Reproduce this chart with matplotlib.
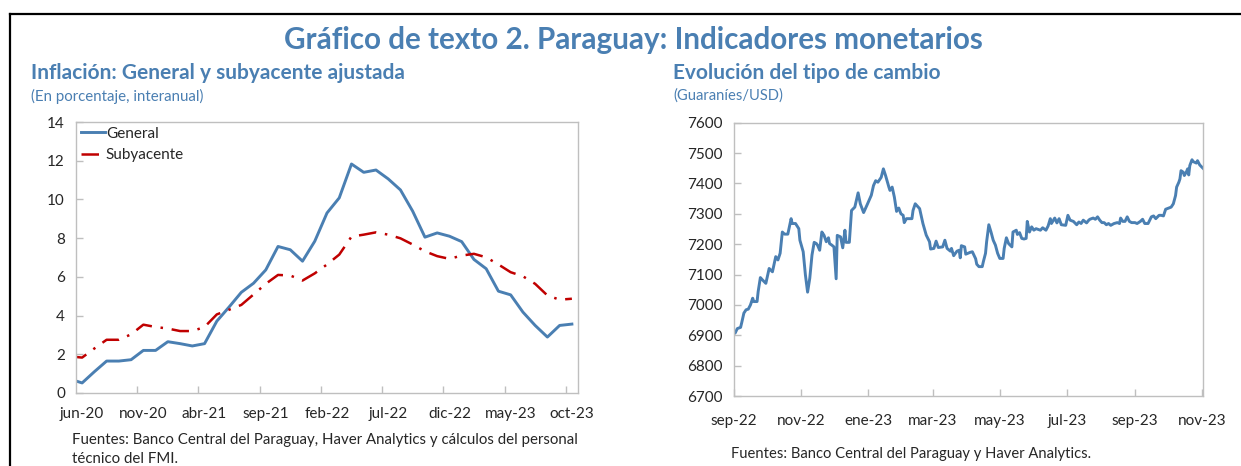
import datetime as dt
import numpy as np
import pandas as pd
import matplotlib
matplotlib.use("Agg")
import matplotlib.pyplot as plt
from matplotlib.lines import Line2D

plt.rcParams['font.family'] = ['Lato', 'DejaVu Sans']

# === Inflacion (mensual, may-20 .. oct-23) ===
meses = pd.period_range("2020-05", "2023-10", freq="M")
general = [0.72, 0.52, 1.10, 1.65, 1.65, 1.72, 2.20, 2.20, 2.65, 2.55, 2.43,
           2.55, 3.71, 4.44, 5.20, 5.67, 6.36, 7.57, 7.40, 6.81, 7.84, 9.30,
           10.08, 11.83, 11.40, 11.52, 11.06, 10.49, 9.39, 8.05, 8.27, 8.10,
           7.82, 6.90, 6.42, 5.26, 5.07, 4.18, 3.49, 2.89, 3.49, 3.56]
subyacente = [1.89, 1.83, 2.30, 2.75, 2.75, 3.03, 3.53, 3.41, 3.33, 3.20, 3.20,
              3.41, 4.06, 4.30, 4.55, 5.09, 5.64, 6.10, 6.07, 5.81, 6.18, 6.64,
              7.15, 8.08, 8.18, 8.30, 8.18, 7.99, 7.67, 7.32, 7.07, 6.93,
              7.10, 7.19, 7.01, 6.64, 6.24, 6.03, 5.64, 5.04, 4.82, 4.87]
inf_labels = ["jun-20", "nov-20", "abr-21", "sep-21", "feb-22", "jul-22",
              "dic-22", "may-23", "oct-23"]

# === Tipo de cambio (dias desde 1-sep-2022) ===
fx_start = dt.date(2022, 9, 1)
fx_days = [0, 1, 3, 6, 7, 9, 11, 13, 15, 17, 18, 21, 22, 24, 26, 29, 32, 35,
           38, 40, 42, 44, 46, 49, 52, 53, 56, 59, 60, 63, 65, 67, 69, 71, 73,
           75, 76, 78, 80, 82, 84, 86, 87, 89, 91, 93, 94, 97, 99, 101, 102,
           105, 107, 110, 113, 115, 118, 121, 125, 127, 129, 131, 134, 136,
           138, 141, 142, 144, 146, 148, 150, 152, 154, 155, 157, 162, 163,
           165, 169, 172, 175, 178, 179, 182, 184, 186, 190, 192, 194, 197,
           198, 200, 203, 205, 206, 207, 210, 211, 215, 217, 220, 221, 223,
           226, 227, 229, 230, 232, 234, 236, 238, 240, 242, 245, 246, 248,
           250, 253, 254, 257, 258, 260, 262, 264, 266, 267, 269, 271, 273,
           275, 279, 281, 284, 286, 288, 289, 292, 294, 296, 298, 302, 304,
           306, 309, 312, 314, 316, 318, 321, 323, 324, 327, 329, 331, 333,
           335, 337, 339, 341, 343, 346, 349, 351, 352, 354, 356, 358, 360,
           362, 365, 367, 370, 372, 374, 377, 380, 382, 384, 387, 389, 391,
           393, 396, 398, 400, 402, 403, 405, 406, 407, 409, 410, 412, 413,
           414, 415, 417, 418, 421, 422, 424, 427]
fx_values = [6911, 6907, 6922, 6926, 6941, 6973, 6984, 6986, 7000, 7022, 7011,
             7011, 7044, 7090, 7082, 7071, 7120, 7109, 7159, 7148, 7170, 7240,
             7233, 7233, 7284, 7268, 7268, 7251, 7213, 7175, 7099, 7042, 7088,
             7164, 7206, 7202, 7197, 7180, 7240, 7229, 7208, 7221, 7202, 7197,
             7191, 7086, 7229, 7224, 7188, 7246, 7206, 7206, 7311, 7322, 7369,
             7333, 7304, 7328, 7361, 7393, 7409, 7404, 7420, 7448, 7426, 7388,
             7377, 7388, 7355, 7308, 7319, 7300, 7295, 7271, 7284, 7284, 7311,
             7333, 7317, 7268, 7230, 7208, 7184, 7186, 7210, 7189, 7191, 7213,
             7186, 7177, 7186, 7162, 7177, 7180, 7155, 7195, 7191, 7167, 7173,
             7175, 7152, 7134, 7126, 7126, 7142, 7170, 7208, 7264, 7240, 7213,
             7197, 7170, 7153, 7153, 7186, 7221, 7202, 7191, 7240, 7246, 7232,
             7238, 7219, 7217, 7219, 7275, 7240, 7257, 7246, 7251, 7246, 7254,
             7246, 7260, 7284, 7268, 7286, 7270, 7284, 7264, 7262, 7295, 7279,
             7275, 7264, 7273, 7268, 7279, 7270, 7279, 7282, 7286, 7282, 7290,
             7279, 7271, 7271, 7264, 7268, 7262, 7268, 7271, 7268, 7286, 7275,
             7275, 7290, 7275, 7271, 7271, 7268, 7275, 7282, 7268, 7268, 7290,
             7293, 7284, 7295, 7295, 7293, 7315, 7319, 7322, 7333, 7360, 7388,
             7404, 7415, 7442, 7437, 7426, 7439, 7448, 7428, 7459, 7478, 7472,
             7467, 7475, 7461, 7450]
fx_tick_dates = ["2022-09-01", "2022-11-01", "2023-01-01", "2023-03-01",
                 "2023-05-01", "2023-07-01", "2023-09-01", "2023-11-01"]
fx_labels = ["sep-22", "nov-22", "ene-23", "mar-23", "may-23", "jul-23",
             "sep-23", "nov-23"]

blue = "#4a7fb2"
red = "#c00000"
gray = "#bfbfbf"
txt = "#262626"

fig = plt.figure(figsize=(12.41, 4.66), dpi=100)

# marco negro
fig.add_artist(Line2D([9.5 / 1241, 9.5 / 1241], [0, 1 - 14 / 466], color="black", lw=1.6))
fig.add_artist(Line2D([9.5 / 1241, 1], [1 - 14 / 466, 1 - 14 / 466], color="black", lw=1.6))

fig.text(633 / 1241, 1 - 39.5 / 466, "Gráfico de texto 2. Paraguay: Indicadores monetarios",
         ha="center", va="center", fontsize=21.3, fontweight="bold", color=blue)
fig.text(31 / 1241, 1 - 73 / 466, "Inflación: General y subyacente ajustada",
         ha="left", va="center", fontsize=15, fontweight="bold", color=blue)
fig.text(31 / 1241, 1 - 96 / 466, "(En porcentaje, interanual)",
         ha="left", va="center", fontsize=10.8, color=blue)
fig.text(673 / 1241, 1 - 73 / 466, "Evolución del tipo de cambio",
         ha="left", va="center", fontsize=15, fontweight="bold", color=blue)
fig.text(673 / 1241, 1 - 96 / 466, "(Guaraníes/USD)",
         ha="left", va="center", fontsize=10.6, color=blue)


def style_axes(ax):
    for s in ax.spines.values():
        s.set_color(gray)
        s.set_linewidth(1.0)
    ax.tick_params(axis="both", which="major", direction="in", color=gray,
                   length=5, width=1.0, labelsize=11, labelcolor=txt)


# === Grafico izquierdo ===
ax1 = fig.add_axes([76 / 1241, 1 - 393 / 466, 502 / 1241, 271 / 466])
x = np.arange(-1, len(meses) - 1)
ax1.plot(x, general, color=blue, lw=2.1, label="General")
ax1.plot(x, subyacente, color=red, lw=1.8, linestyle=(0, (7, 3.5, 1, 3.5)),
         label="Subyacente")
ax1.set_xlim(-0.5, 40.5)
ax1.set_ylim(0, 14)
ax1.set_yticks(range(0, 15, 2))
ax1.set_xticks(np.arange(4.5, 40, 5))
ax1.set_xticklabels([])
ax1.set_xticks(np.arange(0, 41, 5), minor=True)
ax1.set_xticklabels(inf_labels, minor=True)
style_axes(ax1)
ax1.tick_params(axis="x", which="minor", length=0, pad=10, labelsize=11,
                labelcolor=txt)
ax1.tick_params(axis="y", pad=8)
leg = ax1.legend(loc="upper left", frameon=False, fontsize=11,
                 handlelength=1.6, handletextpad=0.05, borderaxespad=0.1,
                 borderpad=0.2, labelspacing=0.5)
for t in leg.get_texts():
    t.set_color(txt)

# === Grafico derecho ===
ax2 = fig.add_axes([734 / 1241, 1 - 396 / 466, 469 / 1241, 273.3 / 466])
fx_dates = [fx_start + dt.timedelta(days=d) for d in fx_days]
ax2.plot(fx_dates, fx_values, color=blue, lw=2.1)
ax2.set_xlim(dt.date(2022, 9, 1), dt.date(2023, 11, 2))
ax2.set_ylim(6700, 7600)
ax2.set_yticks(range(6700, 7601, 100))
ax2.set_xticks([pd.Timestamp(d) for d in fx_tick_dates])
ax2.set_xticklabels(fx_labels)
style_axes(ax2)
ax2.tick_params(axis="x", pad=13)
ax2.tick_params(axis="y", pad=8)

fig.text(72 / 1241, 1 - 440 / 466,
         "Fuentes: Banco Central del Paraguay, Haver Analytics y cálculos del personal",
         ha="left", va="center", fontsize=10.8, color=txt)
fig.text(72 / 1241, 1 - 459 / 466, "técnico del FMI.",
         ha="left", va="center", fontsize=10.8, color=txt)
fig.text(731 / 1241, 1 - 454 / 466, "Fuentes: Banco Central del Paraguay y Haver Analytics.",
         ha="left", va="center", fontsize=10.6, color=txt)

fig.savefig("out.png", dpi=100)
